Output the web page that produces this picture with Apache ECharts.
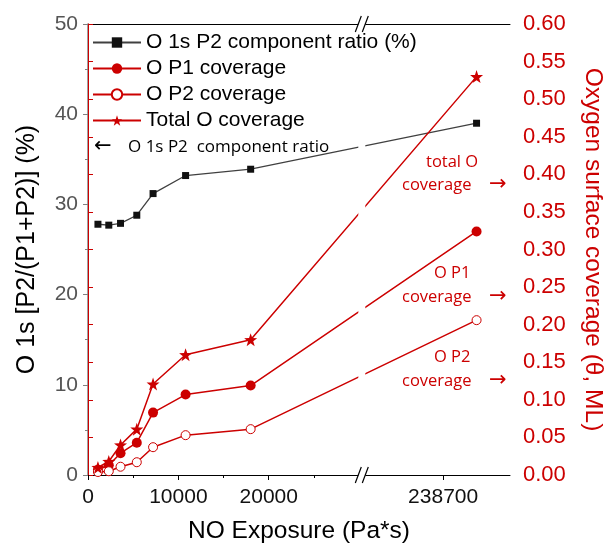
<!DOCTYPE html>
<html>
<head>
<meta charset="utf-8">
<script src="https://cdn.jsdelivr.net/npm/echarts@6/dist/echarts.min.js"></script>
<style>
  html, body { margin: 0; padding: 0; background: #fff; }
  #chart { width: 613px; height: 550px; }
</style>
</head>
<body>
<div id="chart"></div>
<script>
// NO exposure (Pa*s) of each measurement
const exposure = [1100, 2300, 3600, 5400, 7200, 10800, 18000, 242400];
// O 1s P2 component ratio (%) - left axis
const p2Ratio = [27.8, 27.7, 27.9, 28.8, 31.2, 33.2, 33.9, 39.0];
// coverages (ML) - right axis
const p1Coverage = [0.007, 0.013, 0.029, 0.043, 0.083, 0.107, 0.119, 0.324];
const p2Coverage = [0.004, 0.005, 0.011, 0.017, 0.037, 0.053, 0.061, 0.206];
const totalCoverage = [0.010, 0.018, 0.040, 0.061, 0.121, 0.160, 0.180, 0.530];

const xMajorTicks = [0, 10000, 20000, 238700];
const xMinorTicks = [5000, 15000, 25000];
const seriesNames = ['O 1s P2 component ratio (%)', 'O P1 coverage', 'O P2 coverage', 'Total O coverage'];

// broken x axis: everything after the break is shifted left
const breakAt = 30300;
const breakShift = 238700 - 39300;
const xMax = 46700;
const toAxis = x => x > breakAt ? x - breakShift : x;
const fromAxis = v => v > breakAt ? v + breakShift : v;

const RED = '#cc0000';
const STAR = 'path://M0,-10L2.35,-3.24L9.51,-3.09L3.8,1.24L5.88,8.09L0,4L-5.88,8.09L-3.8,1.24L-9.51,-3.09L-2.35,-3.24Z';
const FONT = 'Liberation Sans, Arial, sans-serif';
const NOTE_FONT = 'Open Sans, sans-serif';
const ARROW_FONT = 'DejaVu Sans, sans-serif';

const pairs = vals => exposure.map((x, i) => [toAxis(x), vals[i]]);

const chart = echarts.init(document.getElementById('chart'));

chart.setOption({
  animation: false,
  backgroundColor: '#fff',
  grid: { left: 88, right: 96, top: 24, bottom: 75, containLabel: false },
  legend: {
    orient: 'vertical',
    left: 87, top: 27,
    itemWidth: 48, itemHeight: 13, itemGap: 5,
    textStyle: { fontSize: 21, color: '#000', fontFamily: FONT },
    data: seriesNames
  },
  xAxis: [
    {
      type: 'value', min: 0, max: xMax, position: 'bottom',
      name: 'NO Exposure (Pa*s)', nameLocation: 'middle', nameGap: 44,
      nameTextStyle: { fontSize: 24.5, color: '#000', fontFamily: FONT },
      axisLine: { show: true, lineStyle: { color: '#000', width: 1 } },
      axisTick: { show: true, length: 5, customValues: xMajorTicks.map(toAxis), lineStyle: { color: '#000' } },
      axisLabel: {
        customValues: xMajorTicks.map(toAxis),
        formatter: v => String(Math.round(fromAxis(v))),
        fontSize: 21, color: '#111', margin: 12, fontFamily: FONT
      },
      splitLine: { show: false }
    },
    {
      type: 'value', min: 0, max: xMax, position: 'bottom',
      axisLine: { show: false },
      axisTick: { show: true, length: 3, customValues: xMinorTicks, lineStyle: { color: '#000' } },
      axisLabel: { show: false },
      splitLine: { show: false }
    },
    {
      type: 'value', min: 0, max: xMax, position: 'top',
      axisLine: { show: true, lineStyle: { color: '#000', width: 1 } },
      axisTick: { show: false }, axisLabel: { show: false },
      splitLine: { show: false }
    }
  ],
  yAxis: [
    {
      type: 'value', min: 0, max: 50, interval: 10, position: 'left',
      name: 'O 1s [P2/(P1+P2)] (%)', nameLocation: 'middle', nameGap: 48,
      nameTextStyle: { fontSize: 25, color: '#000', fontFamily: FONT },
      axisLine: { show: true, lineStyle: { color: '#808080', width: 1.5 } },
      axisTick: { show: true, length: 5, lineStyle: { color: '#808080' } },
      minorTick: { show: true, splitNumber: 2, length: 3, lineStyle: { color: '#808080' } },
      axisLabel: { fontSize: 21, color: '#555', margin: 10, fontFamily: FONT },
      splitLine: { show: false }
    },
    {
      type: 'value', min: 0, max: 0.6, interval: 0.05, position: 'right',
      name: 'Oxygen surface coverage (θ, ML)', nameLocation: 'middle', nameGap: 70, nameRotate: -90,
      nameTextStyle: { fontSize: 24.5, color: RED, fontFamily: FONT },
      axisLine: { show: true, lineStyle: { color: RED, width: 1 } },
      axisTick: { show: true, length: 5, lineStyle: { color: RED } },
      axisLabel: { formatter: v => v.toFixed(2), fontSize: 22, color: RED, margin: 13, fontFamily: FONT },
      splitLine: { show: false }
    }
  ],
  series: [
    {
      name: seriesNames[0], type: 'line', xAxisIndex: 0, yAxisIndex: 0,
      data: pairs(p2Ratio),
      symbol: 'rect', symbolSize: 7,
      lineStyle: { color: '#404040', width: 1.3 },
      itemStyle: { color: '#111' }
    },
    {
      name: seriesNames[1], type: 'line', xAxisIndex: 0, yAxisIndex: 1,
      data: pairs(p1Coverage),
      symbol: 'circle', symbolSize: 10,
      lineStyle: { color: RED, width: 1.5 },
      itemStyle: { color: RED }
    },
    {
      name: seriesNames[2], type: 'line', xAxisIndex: 0, yAxisIndex: 1,
      data: pairs(p2Coverage),
      symbol: 'circle', symbolSize: 9, showAllSymbol: true,
      lineStyle: { color: RED, width: 1.5 },
      itemStyle: { color: '#fff', borderColor: RED, borderWidth: 1 }
    },
    {
      name: seriesNames[3], type: 'line', xAxisIndex: 0, yAxisIndex: 1,
      data: pairs(totalCoverage),
      symbol: STAR, symbolSize: 13,
      lineStyle: { color: RED, width: 1.5 },
      itemStyle: { color: RED }
    }
  ]
});

// break marks and text notes
const bx = chart.convertToPixel({ xAxisIndex: 0 }, breakAt);
const yTop = chart.convertToPixel({ yAxisIndex: 0 }, 50);
const yBot = chart.convertToPixel({ yAxisIndex: 0 }, 0);
const half = 3.5;
const whiteBand = (y0, y1) => ({
  type: 'rect', z: 100, silent: true,
  shape: { x: bx - half, y: y0, width: half * 2, height: y1 - y0 },
  style: { fill: '#fff' }
});

// gap in the top axis line, and a gap through the plot below the legend
const graphics = [whiteBand(yTop - 3, yTop + 3), whiteBand(yTop + 32, yBot + 3)];
[yTop, yBot].forEach(y => {
  [bx - half, bx + half].forEach(x => {
    graphics.push({ type: 'line', z: 101, silent: true,
      shape: { x1: x - 3, y1: y + 8, x2: x + 3, y2: y - 8 },
      style: { stroke: '#000', lineWidth: 1.2 } });
  });
});

const note = (text, x, y, color, size, family) => ({
  type: 'text', z: 102, silent: true, x: x, y: y,
  style: { text: text, fill: color, font: size + 'px ' + (family || NOTE_FONT), textVerticalAlign: 'middle' }
});

graphics.push(note('←', 94, 147, '#000', 21, ARROW_FONT));
graphics.push(note('O 1s P2  component ratio', 128, 147, '#000', 17));
[['total O', 426, 162, 185], ['O P1', 434, 273, 297], ['O P2', 434, 357, 381]].forEach(([t, tx, ty, cy]) => {
  graphics.push(note(t, tx, ty, RED, 16.5));
  graphics.push(note('coverage', 402, cy, RED, 16.5));
  graphics.push(note('→', 489, cy, RED, 21, ARROW_FONT));
});

chart.setOption({ graphic: graphics });
</script>
</body>
</html>
